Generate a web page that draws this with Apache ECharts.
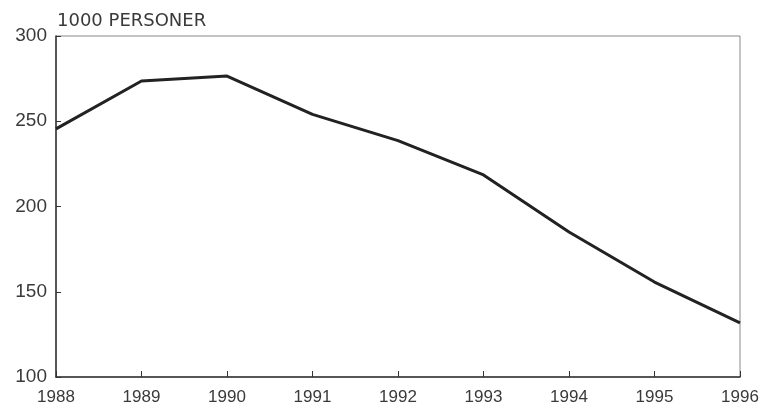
<!DOCTYPE html>
<html>
<head>
    <meta charset="UTF-8">
    <title>1000 personer</title>
    <script src="https://cdn.jsdelivr.net/npm/echarts@6/dist/echarts.min.js"></script>
    <style>
        html, body { margin: 0; padding: 0; background: #fff; }
    </style>
</head>
<body>
<div id="chart" style="width: 764px;height:414px;"></div>
<script type="text/javascript">
    // år
    var years = ['1988', '1989', '1990', '1991', '1992', '1993', '1994', '1995', '1996'];
    // 1000 personer
    var persons = [245.5, 273.6, 276.5, 254, 238.6, 218.5, 185, 155.7, 131.7];
    var yTicks = [100, 150, 200, 250, 300];

    var chart = echarts.init(document.getElementById('chart'));
    var font = 'Liberation Sans';

    var option = {
        backgroundColor: '#ffffff',
        animation: false,
        graphic: [{
            type: 'text',
            x: 57,
            y: 21,
            style: {
                text: '1000 PERSONER',
                font: '18px "DejaVu Sans"',
                fill: '#3a3a3a',
                verticalAlign: 'middle'
            }
        }],
        grid: {
            left: 56,
            right: 24,
            top: 36,
            bottom: 37,
            show: true,
            borderColor: '#888',
            borderWidth: 1
        },
        xAxis: {
            type: 'category',
            boundaryGap: false,
            data: years,
            axisLine: { lineStyle: { color: '#333', width: 1.5 } },
            axisTick: { inside: true, length: 6, lineStyle: { color: '#333' } },
            axisLabel: { color: '#3a3a3a', fontFamily: font, fontSize: 17, margin: 12 },
            splitLine: { show: false }
        },
        yAxis: {
            type: 'value',
            min: yTicks[0],
            max: yTicks[yTicks.length - 1],
            interval: 50,
            axisLine: { show: true, lineStyle: { color: '#333', width: 1.5 } },
            axisTick: { show: true, inside: true, length: 5, lineStyle: { color: '#333' } },
            axisLabel: { color: '#3a3a3a', fontFamily: font, fontSize: 19, margin: 9 },
            splitLine: { show: false }
        },
        series: [{
            type: 'line',
            data: persons,
            symbol: 'none',
            lineStyle: { color: '#222', width: 3 }
        }]
    };
    chart.setOption(option);
</script>
</body>
</html>
